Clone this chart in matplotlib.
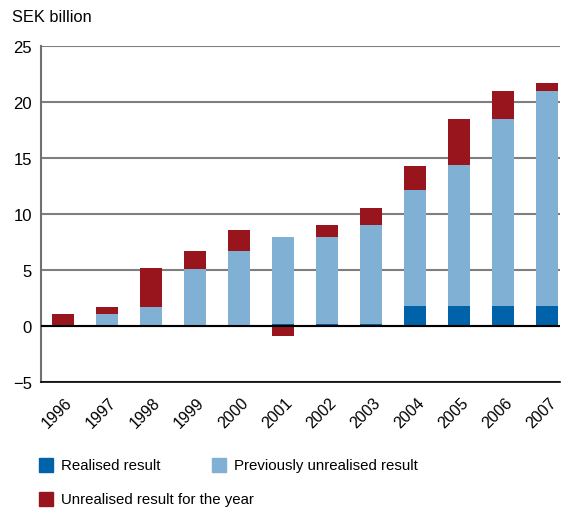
import numpy as np
from matplotlib import pyplot as plt
from matplotlib.patches import Rectangle
from matplotlib.transforms import ScaledTranslation

plt.rcParams['font.family'] = ['Liberation Sans', 'DejaVu Sans']

years = ['1996', '1997', '1998', '1999', '2000', '2001',
         '2002', '2003', '2004', '2005', '2006', '2007']
realised = [0, 0, 0, 0, 0, 0.2, 0.2, 0.2, 1.8, 1.8, 1.8, 1.8]
prev_unrealised = [0, 1.1, 1.7, 5.1, 6.7, 7.7, 7.7, 8.8, 10.3, 12.6, 16.7, 19.2]
year_unrealised = [1.1, 0.6, 3.5, 1.6, 1.9, -0.9, 1.1, 1.5, 2.2, 4.1, 2.5, 0.7]

dark_blue = '#0062a8'
light_blue = '#81b0d5'
dark_red = '#99151d'

fig = plt.figure(figsize=(5.61, 5.10), dpi=100)
ax = fig.add_axes([41/561, 1 - 383/510, (560 - 41)/561, (383 - 46.7)/510])

x = np.arange(len(years))
r = np.array(realised)
p = np.array(prev_unrealised)
u = np.array(year_unrealised)

ax.bar(x, r, width=0.5, color=dark_blue, zorder=3)
ax.bar(x, p, bottom=r, width=0.5, color=light_blue, zorder=3)
# negative unrealised result hangs below zero
u_bottom = np.where(u >= 0, r + p, 0)
ax.bar(x, u, bottom=u_bottom, width=0.5, color=dark_red, zorder=3)

ax.set_ylim(-5, 25)
ax.set_xlim(-0.5, 11.3)
ax.set_yticks([-5, 0, 5, 10, 15, 20, 25])
ax.set_yticklabels(['\u22125', '0', '5', '10', '15', '20', '25'])
ax.yaxis.grid(True, color='#7f7f7f', linewidth=1.5, zorder=0)
ax.axhline(0, color='black', linewidth=1.5, zorder=4)
ax.axhline(25, color='#333333', linewidth=1.2, zorder=1)

for side in ['top', 'right']:
    ax.spines[side].set_visible(False)
ax.spines['left'].set_color('#707070')
ax.spines['left'].set_linewidth(1.5)
ax.spines['bottom'].set_color('black')
ax.spines['bottom'].set_linewidth(1.2)

ax.tick_params(axis='y', length=0, pad=6.5, labelsize=12)
ax.tick_params(axis='x', length=0, pad=13, labelsize=11.5)
ax.set_xticks(x)
ax.set_xticklabels(years, rotation=45, ha='right', va='center', rotation_mode='anchor')
shift = ScaledTranslation(7/100, 0, fig.dpi_scale_trans)
for lab in ax.get_xticklabels():
    lab.set_transform(lab.get_transform() + shift)

fig.text(12/561, 1 - 18/510, 'SEK billion', fontsize=11.8, va='center', ha='left')

# legend drawn by hand so the columns line up
legend_items = [
    (39, 466, dark_blue, 'Realised result'),
    (212, 466, light_blue, 'Previously unrealised result'),
    (39, 500, dark_red, 'Unrealised result for the year'),
]
for lx, ly, col, label in legend_items:
    fig.add_artist(Rectangle((lx/561, 1 - (ly + 7)/510), 14/561, 14/510,
                             transform=fig.transFigure, color=col))
    fig.text((lx + 22)/561, 1 - ly/510, label, fontsize=10.8, va='center', ha='left')

plt.savefig('out.png', dpi=100)
